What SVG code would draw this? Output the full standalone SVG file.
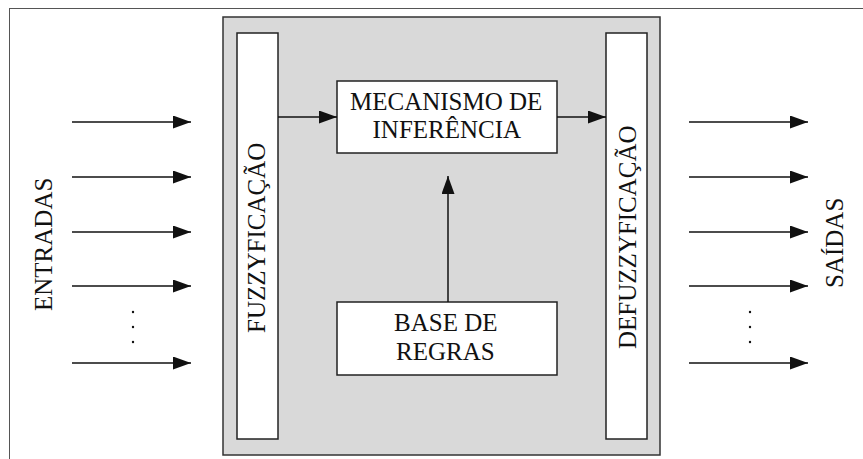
<svg xmlns="http://www.w3.org/2000/svg" width="863" height="459" viewBox="0 0 863 459" font-family="Times New Roman, Liberation Serif, serif">
<style>
.box{fill:#fff;stroke:#222;stroke-width:1.5}
.ln{stroke:#111;stroke-width:1.5;fill:none}
</style>
<defs>
<marker id="ah" markerUnits="userSpaceOnUse" markerWidth="19" markerHeight="14" refX="18" refY="6.5" orient="auto">
<path d="M0,0 L18,6.5 L0,13 Z" fill="#111"/>
</marker>
</defs>
<rect x="9.5" y="8.5" width="880" height="480" fill="#fff" stroke="#555" stroke-width="1"/>
<g id="system">
<rect x="223" y="17" width="437" height="438" fill="#d9d9d9" stroke="#333" stroke-width="1.5"/>
</g>
<g id="fuzzificacao">
<rect class="box" x="237" y="33" width="41" height="406"/>
<text font-family="Times New Roman, Liberation Serif, serif" font-size="25" fill="#111" transform="translate(265,333) rotate(-90)">FUZZYFICAÇÃO</text>
</g>
<g id="defuzzificacao">
<rect class="box" x="606" y="33" width="41" height="406"/>
<text font-family="Times New Roman, Liberation Serif, serif" font-size="25" fill="#111" transform="translate(636,349) rotate(-90)">DEFUZZYFICAÇÃO</text>
</g>
<g id="mecanismo">
<rect class="box" x="337" y="81" width="220" height="72"/>
<text font-family="Times New Roman, Liberation Serif, serif" font-size="25" fill="#111" x="350" y="110">MECANISMO DE</text>
<text font-family="Times New Roman, Liberation Serif, serif" font-size="25" fill="#111" x="372.5" y="138">INFERÊNCIA</text>
</g>
<g id="base">
<rect class="box" x="337" y="302" width="220" height="73"/>
<text font-family="Times New Roman, Liberation Serif, serif" font-size="25" fill="#111" x="394" y="331">BASE DE</text>
<text font-family="Times New Roman, Liberation Serif, serif" font-size="25" fill="#111" x="396" y="360">REGRAS</text>
</g>
<g id="entradas">
<text font-family="Times New Roman, Liberation Serif, serif" font-size="25" fill="#111" transform="translate(52,311) rotate(-90)">ENTRADAS</text>
</g>
<g id="saidas">
<text font-family="Times New Roman, Liberation Serif, serif" font-size="25" fill="#111" transform="translate(843,288) rotate(-90)">SAÍDAS</text>
</g>
<g id="connectors">
<line class="ln" x1="72" y1="122" x2="191" y2="122" marker-end="url(#ah)"/>
<line class="ln" x1="72" y1="177" x2="191" y2="177" marker-end="url(#ah)"/>
<line class="ln" x1="72" y1="232" x2="191" y2="232" marker-end="url(#ah)"/>
<line class="ln" x1="72" y1="286" x2="191" y2="286" marker-end="url(#ah)"/>
<line class="ln" x1="72" y1="363" x2="191" y2="363" marker-end="url(#ah)"/>
<line class="ln" x1="689" y1="122" x2="808" y2="122" marker-end="url(#ah)"/>
<line class="ln" x1="689" y1="177" x2="808" y2="177" marker-end="url(#ah)"/>
<line class="ln" x1="689" y1="232" x2="808" y2="232" marker-end="url(#ah)"/>
<line class="ln" x1="689" y1="286" x2="808" y2="286" marker-end="url(#ah)"/>
<line class="ln" x1="689" y1="363" x2="808" y2="363" marker-end="url(#ah)"/>
<line class="ln" x1="278" y1="117" x2="337" y2="117" marker-end="url(#ah)"/>
<line class="ln" x1="557" y1="117" x2="606" y2="117" marker-end="url(#ah)"/>
<line class="ln" x1="448" y1="302" x2="448" y2="176" marker-end="url(#ah)"/>
</g>
<g id="dots" fill="#111">
<circle cx="133" cy="312" r="1.2"/><circle cx="133" cy="327" r="1.2"/><circle cx="133" cy="342" r="1.2"/>
<circle cx="750" cy="312" r="1.2"/><circle cx="750" cy="327" r="1.2"/><circle cx="750" cy="342" r="1.2"/>
</g>
</svg>
